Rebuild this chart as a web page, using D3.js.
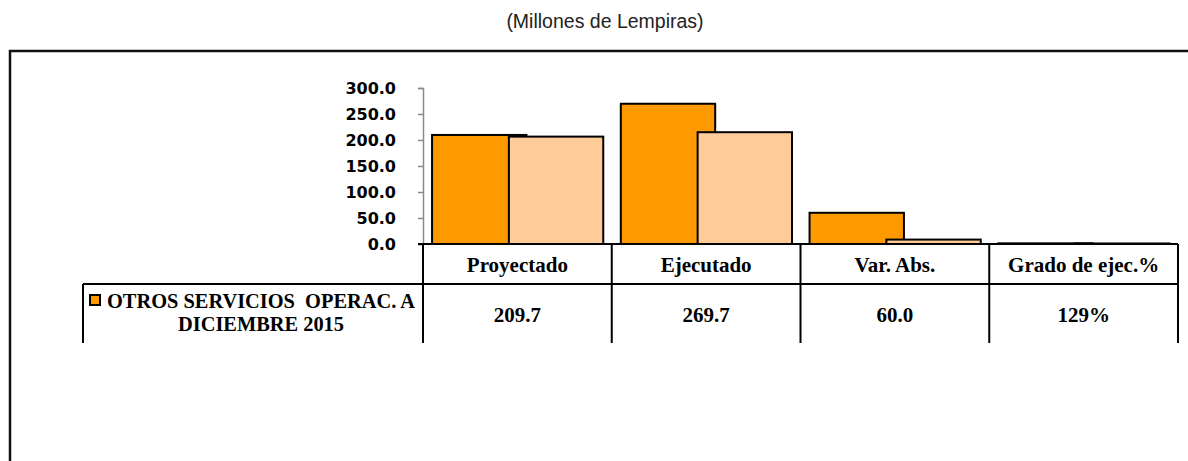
<!DOCTYPE html>
<html>
<head>
<meta charset="utf-8">
<script src="https://cdn.jsdelivr.net/npm/d3@7"></script>
<style>
  body { margin: 0; background: #fff; }
  svg { display: block; }
</style>
</head>
<body>
<svg id="chart" width="1188" height="461"></svg>
<script>
// data
var categories = ["Proyectado", "Ejecutado", "Var. Abs.", "Grado de ejec.%"];
var serie2015 = [209.7, 269.7, 60.0, 1.29];
var serieAnterior = [206.5, 215.0, 8.5, 1.0];
var tablaValores = ["209.7", "269.7", "60.0", "129%"];
var leyenda = ["OTROS SERVICIOS  OPERAC. A", "DICIEMBRE 2015"];
var yTicks = [0, 50, 100, 150, 200, 250, 300];

var svg = d3.select("#chart");

// title
svg.append("text")
	.attr("x", 605).attr("y", 28)
	.attr("text-anchor", "middle")
	.style("font-family", "'Liberation Sans', Arial, sans-serif")
	.style("font-size", "19.5px")
	.style("fill", "#222")
	.text("(Millones de Lempiras)");

// outer frame
svg.append("rect")
	.attr("x", 10).attr("y", 51)
	.attr("width", 1200).attr("height", 430)
	.style("fill", "none")
	.style("stroke", "#111")
	.style("stroke-width", 2.5);

var x = d3.scaleBand().domain(categories).range([423, 1178]);
var y = d3.scaleLinear().domain([0, 300]).range([244, 88]);

var bw = x.bandwidth();
var barW = bw * 0.5;
var off1 = bw * 0.048, off2 = bw * 0.455;

var g = svg.append("g");

// bars: previous series drawn after so it overlaps
g.selectAll("rect.s1").data(serie2015).enter().append("rect")
	.attr("class", "s1")
	.attr("x", function(d, i) { return x(categories[i]) + off1; })
	.attr("y", function(d) { return y(d); })
	.attr("width", barW)
	.attr("height", function(d) { return y(0) - y(d); })
	.style("fill", "#FF9900")
	.style("stroke", "#000")
	.style("stroke-width", 2);

g.selectAll("rect.s2").data(serieAnterior).enter().append("rect")
	.attr("class", "s2")
	.attr("x", function(d, i) { return x(categories[i]) + off2; })
	.attr("y", function(d) { return y(d); })
	.attr("width", barW)
	.attr("height", function(d) { return y(0) - y(d); })
	.style("fill", "#FFCC99")
	.style("stroke", "#000")
	.style("stroke-width", 2);

// y axis
var yAxis = svg.append("g")
	.attr("transform", "translate(423,0)")
	.call(d3.axisLeft(y).tickValues(yTicks).tickSize(5).tickPadding(22).tickFormat(d3.format(".1f")));
yAxis.select(".domain").style("stroke", "#888").style("stroke-width", 1.5);
yAxis.selectAll(".tick line").style("stroke", "#888").style("stroke-width", 1.5);
yAxis.selectAll("text")
	.style("font-family", "'DejaVu Sans', Verdana, sans-serif")
	.style("font-weight", "bold")
	.style("font-size", "16px")
	.style("fill", "#000");

// data table
var tbl = svg.append("g").style("stroke", "#000").style("stroke-width", 2);
tbl.append("line").attr("x1", 418).attr("x2", 1178).attr("y1", 244).attr("y2", 244);
tbl.append("line").attr("x1", 83).attr("x2", 1178).attr("y1", 284).attr("y2", 284);
tbl.append("line").attr("x1", 83).attr("x2", 83).attr("y1", 284).attr("y2", 343);
tbl.selectAll("line.v").data(categories.concat(["end"])).enter().append("line")
	.attr("class", "v")
	.attr("x1", function(d, i) { return i < categories.length ? x(d) : 1178; })
	.attr("x2", function(d, i) { return i < categories.length ? x(d) : 1178; })
	.attr("y1", 244).attr("y2", 343);

var serif = "'Liberation Serif', 'Times New Roman', serif";
svg.selectAll("text.cat").data(categories).enter().append("text")
	.attr("class", "cat")
	.attr("x", function(d) { return x(d) + bw / 2; })
	.attr("y", 272)
	.attr("text-anchor", "middle")
	.style("font-family", serif).style("font-weight", "bold").style("font-size", "21px")
	.text(function(d) { return d; });

svg.selectAll("text.val").data(tablaValores).enter().append("text")
	.attr("class", "val")
	.attr("x", function(d, i) { return x(categories[i]) + bw / 2; })
	.attr("y", 322)
	.attr("text-anchor", "middle")
	.style("font-family", serif).style("font-weight", "bold").style("font-size", "21px")
	.text(function(d) { return d; });

// legend key + label
svg.append("rect")
	.attr("x", 90).attr("y", 295)
	.attr("width", 10).attr("height", 10)
	.style("fill", "#FF9900").style("stroke", "#000").style("stroke-width", 2);
svg.selectAll("text.leg").data(leyenda).enter().append("text")
	.attr("class", "leg")
	.attr("x", 261)
	.attr("y", function(d, i) { return 308 + i * 23; })
	.attr("text-anchor", "middle")
	.style("font-family", serif).style("font-weight", "bold").style("font-size", "20.4px")
	.style("white-space", "pre")
	.text(function(d) { return d; });
</script>
</body>
</html>
